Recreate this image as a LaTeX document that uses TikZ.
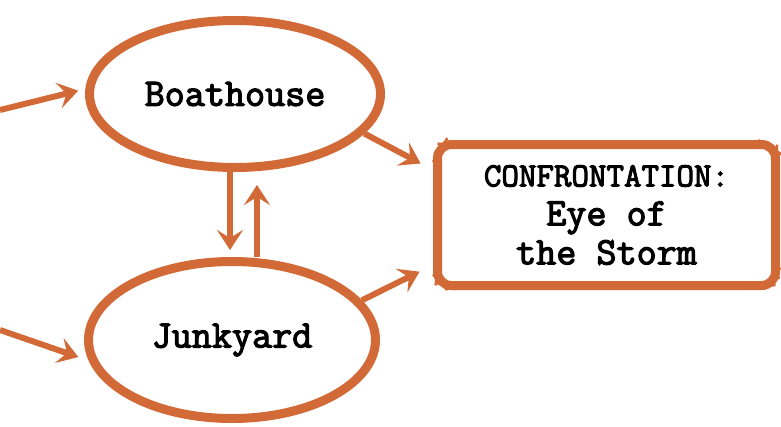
\documentclass[tikz,border=0pt]{standalone}
\usepackage{fontspec}
\newfontfamily\tw{Latin Modern Mono}[FakeBold=3]
\usetikzlibrary{arrows.meta,calc,shapes.geometric,decorations.pathmorphing}
\definecolor{rust}{RGB}{210,106,56}
\tikzset{
  sketch/.style={postaction={draw=rust,line width=2.5pt,decorate,decoration={random steps,segment length=7pt,amplitude=1.2pt}}},
  place/.style={ellipse,draw=rust,line width=9pt,inner sep=0pt,sketch,font=\tw\fontsize{39}{44}\selectfont},
  goal/.style={rectangle,draw=rust,line width=9pt,rounded corners=14pt,inner sep=0pt,sketch,align=center,font=\tw\fontsize{39}{39}\selectfont},
  link/.style={draw=rust,line width=6pt,-{Stealth[length=20pt,width=26pt,inset=8pt]}}
}
\begin{document}
\begin{tikzpicture}[x=1pt,y=-1pt]
\useasboundingbox (0,0) rectangle (781,426);
\node[place,minimum width=291pt,minimum height=147pt] (boat) at (235,94) {Boathouse};
\node[place,minimum width=287pt,minimum height=157pt] (junk) at (232,340) {Junkyard};
\node[goal,minimum width=338pt,minimum height=141pt] (box) at (606.5,215)
  {{\fontsize{34}{39}\selectfont CONFRONTATION:}\\Eye of\\the Storm};
\coordinate (inB) at (0,110);
\coordinate (inJ) at (0,330);
\draw[link,shorten >=7pt] (inB) -- ($(boat.west)+(0,-5)$);
\draw[link,shorten >=6pt] (inJ) -- ($(junk.west)+(0,19)$);
\draw[link,shorten >=14pt] (boat.-17) -- ($(box.west)+(0,-45)$);
\draw[link,shorten >=15pt] (junk.17) -- ($(box.west)+(0,50)$);
\draw[link,shorten >=7pt] ($(boat.south)+(-5,0)$) -- ($(junk.north)+(-2,0)$);
\draw[link,shorten >=13pt] ($(junk.north)+(25,0)$) -- ($(boat.south)+(22,0)$);
\end{tikzpicture}
\end{document}
